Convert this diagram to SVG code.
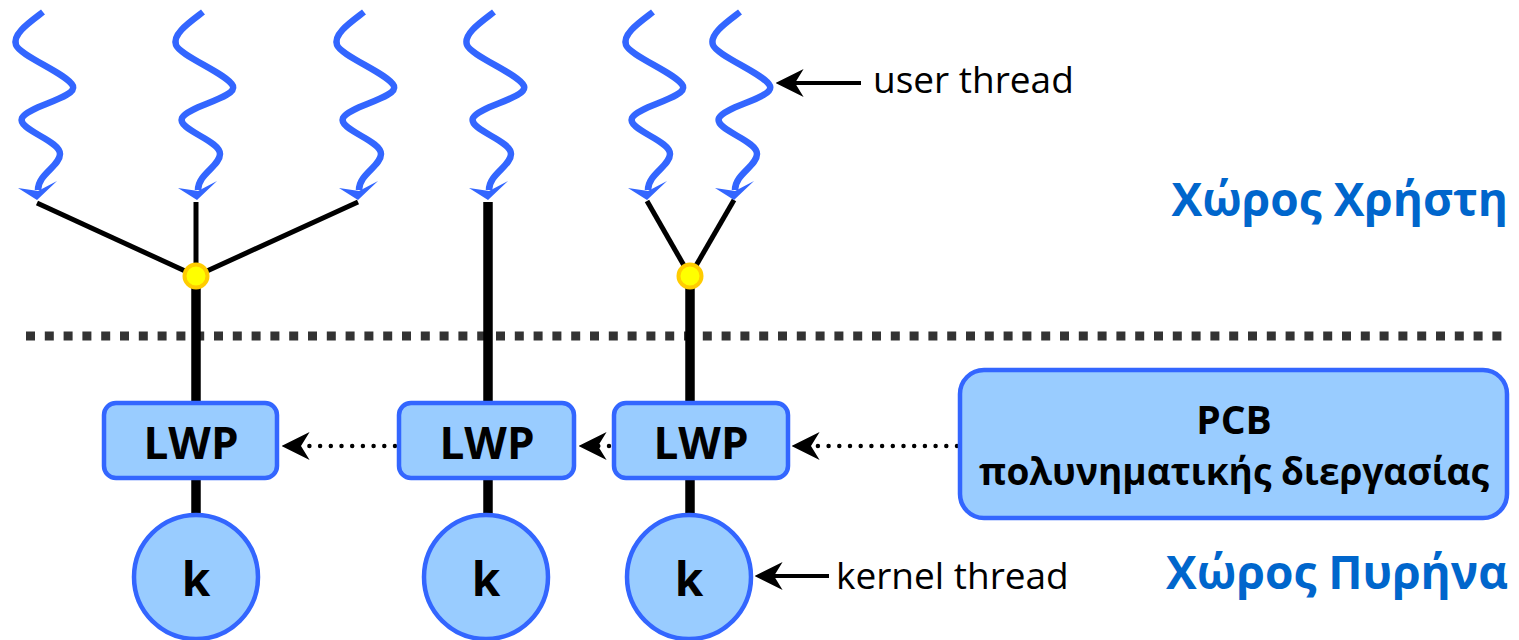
<svg xmlns="http://www.w3.org/2000/svg" xmlns:xlink="http://www.w3.org/1999/xlink" width="1519" height="640" viewBox="0 0 1519 640">
<style>
.wave{fill:none;stroke:#3366FF;stroke-width:6.5;stroke-linecap:butt}
.wavehead{fill:#3366FF}
.thin{stroke:#000;stroke-width:5;fill:none}
.thick{stroke:#000;stroke-width:9.5;fill:none}
.box{fill:#99CCFF;stroke:#3366FF;stroke-width:4.5}
.junc{fill:#FFFF00;stroke:#FFCC00;stroke-width:4}
.lbl{font-family:"Open Sans","Noto Sans","DejaVu Sans",sans-serif;font-weight:bold;fill:#000;text-anchor:middle}
.note{font-family:"Open Sans","Noto Sans","DejaVu Sans",sans-serif;fill:#000;font-size:37px}
.space{font-family:"Open Sans","Noto Sans","DejaVu Sans",sans-serif;font-weight:bold;fill:#0066CC;font-size:46px;text-anchor:end}
.dots{stroke:#000;stroke-width:4.5;stroke-linecap:round;stroke-dasharray:0 10.7;fill:none}
.solid{stroke:#000;stroke-width:4;fill:none}
.sep{stroke:#333333;stroke-width:9;stroke-dasharray:9 9.8;fill:none}
</style>
<defs>
<marker id="arr" markerUnits="userSpaceOnUse" markerWidth="28" markerHeight="28" viewBox="0 0 26 26" refX="8" refY="13" orient="auto">
<path d="M0,0 L26,13 L0,26 L8,13 Z" fill="#000"/>
</marker>
<g id="wave">
<path class="wave" d="M43,12 C30,22 12,34 16,45 C20,56 68,74 73,86 C77,98 28,106 22,118 C17,130 60,140 60,154 C60,166 38,174 38,190"/>
<polygon class="wavehead" points="18,188 37,200 57,181 38,191"/>
</g>
</defs>

<line class="sep" x1="26" y1="336" x2="1502" y2="336"/>

<g id="connectors">
<line class="thin" x1="37" y1="203" x2="196" y2="276"/>
<line class="thin" x1="196" y1="202" x2="196" y2="276"/>
<line class="thin" x1="358" y1="202" x2="196" y2="276"/>
<line class="thick" x1="196" y1="276" x2="196" y2="405"/>
<line class="thick" x1="196" y1="476" x2="196" y2="516"/>
<line class="thick" x1="488" y1="202" x2="488" y2="405"/>
<line class="thick" x1="488" y1="476" x2="488" y2="516"/>
<line class="thin" x1="647" y1="201" x2="690" y2="276"/>
<line class="thin" x1="734" y1="200" x2="690" y2="276"/>
<line class="thick" x1="690" y1="276" x2="690" y2="405"/>
<line class="thick" x1="690" y1="476" x2="690" y2="516"/>
<path class="dots" d="M395,446 L301,446" marker-end="url(#arr)"/>
<path class="dots" d="M609,446 L598,446" marker-end="url(#arr)"/>
<path class="dots" d="M957,446 L811,446" marker-end="url(#arr)"/>
<path class="solid" d="M861,83 L795,83" marker-end="url(#arr)"/>
<path class="solid" d="M829,576 L774,576" marker-end="url(#arr)"/>
</g>

<g id="ut1"><use xlink:href="#wave" x="0"/></g>
<g id="ut2"><use xlink:href="#wave" x="160"/></g>
<g id="ut3"><use xlink:href="#wave" x="321"/></g>
<g id="ut4"><use xlink:href="#wave" x="451"/></g>
<g id="ut5"><use xlink:href="#wave" x="610"/></g>
<g id="ut6"><use xlink:href="#wave" x="697"/></g>

<g id="j1"><circle class="junc" cx="196" cy="276" r="11.5"/></g>
<g id="j2"><circle class="junc" cx="690" cy="276" r="11.5"/></g>

<g id="lwp1"><rect class="box" x="104" y="403" width="173" height="75" rx="12"/><text class="lbl" x="191" y="459" font-size="44">LWP</text></g>
<g id="lwp2"><rect class="box" x="399" y="403" width="175" height="75" rx="12"/><text class="lbl" x="487" y="459" font-size="44">LWP</text></g>
<g id="lwp3"><rect class="box" x="614" y="403" width="174" height="75" rx="12"/><text class="lbl" x="701" y="459" font-size="44">LWP</text></g>

<g id="k1"><circle class="box" cx="196" cy="577" r="62"/><text class="lbl" x="196" y="596" font-size="46">k</text></g>
<g id="k2"><circle class="box" cx="486" cy="577" r="62"/><text class="lbl" x="486" y="596" font-size="46">k</text></g>
<g id="k3"><circle class="box" cx="689" cy="577" r="62"/><text class="lbl" x="689" y="596" font-size="46">k</text></g>

<g id="pcb"><rect class="box" x="960" y="370" width="547" height="148" rx="24"/>
<text class="lbl" x="1234" y="434" font-size="39">PCB</text>
<text class="lbl" x="1234" y="485" font-size="37">πολυνηματικής διεργασίας</text></g>

<g id="userthread"><text class="note" x="873" y="93">user thread</text></g>
<g id="kernelthread"><text class="note" x="836" y="589">kernel thread</text></g>
<g id="userspace"><text class="space" x="1508" y="216">Χώρος Χρήστη</text></g>
<g id="kernelspace"><text class="space" x="1508" y="589">Χώρος Πυρήνα</text></g>
</svg>
